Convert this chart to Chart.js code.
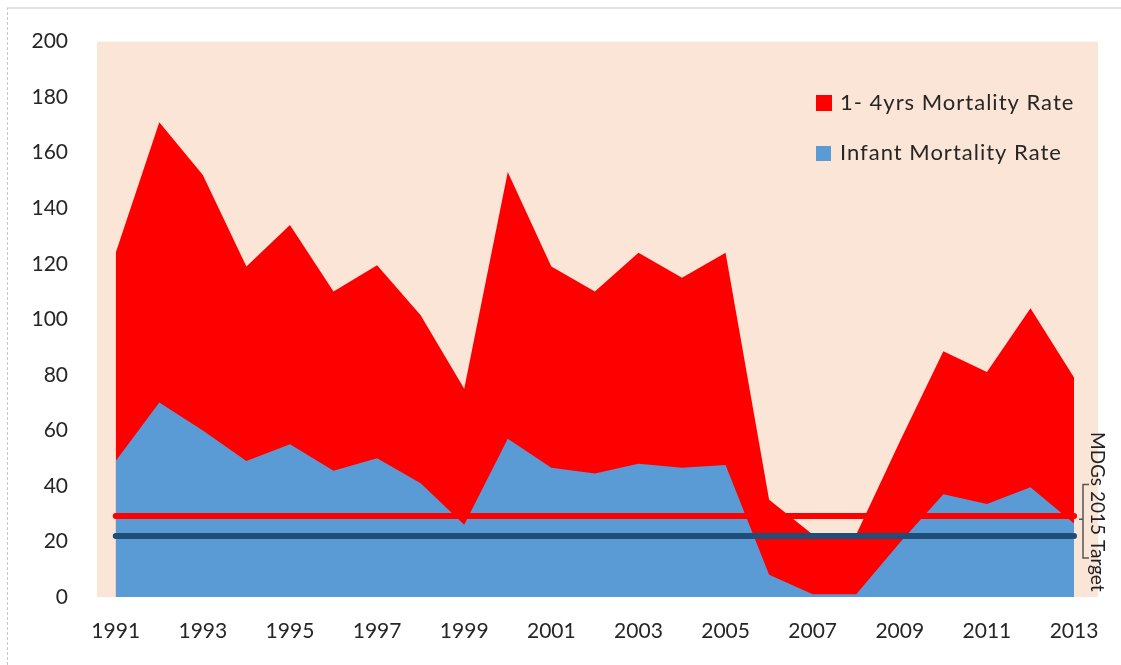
<!DOCTYPE html>
<html lang="en">
<head>
  <meta charset="UTF-8">
  <title>Under-five mortality</title>
  <script src="https://cdn.jsdelivr.net/npm/chart.js"></script>
  <style>
    body { margin: 0; padding: 0; background: #fff; }
    .frame {
      position: absolute; left: 7px; top: 7px; right: 0; bottom: 0;
      border-top: 2px solid #e2e2e2; border-left: 1px dashed #c8c8c8;
    }
    .wrap { position: absolute; left: 0; top: 0; width: 1121px; height: 665px; }
  </style>
</head>
<body>
  <div class="frame"></div>
  <div class="wrap"><canvas id="mortChart" width="1121" height="665"></canvas></div>

  <script>
    // values
    const years = [1991, 1992, 1993, 1994, 1995, 1996, 1997, 1998, 1999, 2000, 2001, 2002,
                   2003, 2004, 2005, 2006, 2007, 2008, 2009, 2010, 2011, 2012, 2013];
    const childRate = [124, 171, 152, 119, 134, 110, 119.5, 101.5, 75, 153, 119, 110,
                       124, 115, 124, 35, 22.5, 22.5, 56, 88.5, 81, 104, 79];
    const infantRate = [49, 70, 60, 49, 55, 45.5, 50, 41, 26, 57, 46.5, 44.5,
                        48, 46.5, 47.5, 8, 1, 1, 19.5, 37, 33.5, 39.5, 26.5];
    const childTarget = 29.2;
    const infantTarget = 22;
    const tickYears = [1991, 1993, 1995, 1997, 1999, 2001, 2003, 2005, 2007, 2009, 2011, 2013];

    const seriesNames = ['1- 4yrs Mortality Rate', 'Infant Mortality Rate'];
    const RED = '#ff0000', BLUE = '#5b9bd5', NAVY = '#1f4e79';
    const FONT = 'Lato, "Open Sans", sans-serif';

    const toPts = (vals) => years.map((y, i) => ({ x: y, y: vals[i] }));
    const flat = (v) => [{ x: years[0], y: v }, { x: years[years.length - 1], y: v }];

    // beige plot background + legend + MDG note
    const extras = {
      id: 'extras',
      beforeDraw(chart) {
        const { ctx, chartArea: a } = chart;
        ctx.save();
        ctx.fillStyle = '#fbe5d6';
        ctx.fillRect(a.left, a.top, a.right - a.left, a.bottom - a.top);
        ctx.restore();
      },
      afterDraw(chart) {
        const ctx = chart.ctx;
        const ys = chart.scales.y;
        ctx.save();
        // legend
        ctx.font = '22px ' + FONT;
        ctx.letterSpacing = '1px';
        ctx.textBaseline = 'middle';
        ctx.fillStyle = RED;
        ctx.fillRect(816, 95, 16, 16);
        ctx.fillStyle = BLUE;
        ctx.fillRect(816, 146, 15, 15);
        ctx.fillStyle = '#262626';
        ctx.fillText(seriesNames[0], 840, 103);
        ctx.fillText(seriesNames[1], 840, 153);
        ctx.letterSpacing = '0px';

        // bracket for the targets
        const yTop = ys.getPixelForValue(40.5);
        const yBot = ys.getPixelForValue(14);
        const yMid = ys.getPixelForValue(28);
        ctx.strokeStyle = '#555';
        ctx.lineWidth = 1.5;
        ctx.beginPath();
        ctx.moveTo(1089, yTop); ctx.lineTo(1083, yTop); ctx.lineTo(1083, yBot); ctx.lineTo(1089, yBot);
        ctx.moveTo(1083, yMid); ctx.lineTo(1079, yMid);
        ctx.stroke();

        // rotated note
        ctx.translate(1097, 432);
        ctx.rotate(Math.PI / 2);
        ctx.font = '19px ' + FONT;
        ctx.fillStyle = '#222';
        ctx.textBaseline = 'middle';
        ctx.fillText('MDGs 2015 Target', 0, 0);
        ctx.restore();
      }
    };

    new Chart(document.getElementById('mortChart'), {
      type: 'line',
      data: {
        datasets: [
          { label: 'childTarget', data: flat(childTarget), borderColor: RED, borderWidth: 6,
            borderCapStyle: 'round', pointRadius: 0, fill: false, order: 0 },
          { label: 'infantTarget', data: flat(infantTarget), borderColor: NAVY, borderWidth: 6,
            borderCapStyle: 'round', pointRadius: 0, fill: false, order: 1 },
          { label: seriesNames[1], data: toPts(infantRate), backgroundColor: BLUE, borderWidth: 0,
            borderColor: BLUE, pointRadius: 0, fill: 'origin', tension: 0, order: 2 },
          { label: seriesNames[0], data: toPts(childRate), backgroundColor: RED, borderWidth: 0,
            borderColor: RED, pointRadius: 0, fill: 'origin', tension: 0, order: 3 }
        ]
      },
      options: {
        responsive: false,
        animation: false,
        layout: { padding: { top: 39, right: 23, left: 0, bottom: 0 } },
        plugins: { legend: { display: false }, tooltip: { enabled: false } },
        scales: {
          x: {
            type: 'linear', min: 1990.57, max: 2013.55,
            afterBuildTicks: (s) => { s.ticks = tickYears.map(v => ({ value: v })); },
            afterFit: (s) => { s.height = 68; },
            grid: { display: false, drawTicks: false },
            border: { display: false },
            ticks: { color: '#262626', font: { family: FONT, size: 21 }, padding: 22,
                     maxRotation: 0, autoSkip: false, callback: (v) => String(v) }
          },
          y: {
            min: 0, max: 200,
            afterFit: (s) => { s.width = 97; },
            grid: { display: false, drawTicks: false },
            border: { display: false },
            ticks: { stepSize: 20, color: '#262626', font: { family: FONT, size: 21 }, padding: 29 }
          }
        }
      },
      plugins: [extras]
    });
  </script>
</body>
</html>
